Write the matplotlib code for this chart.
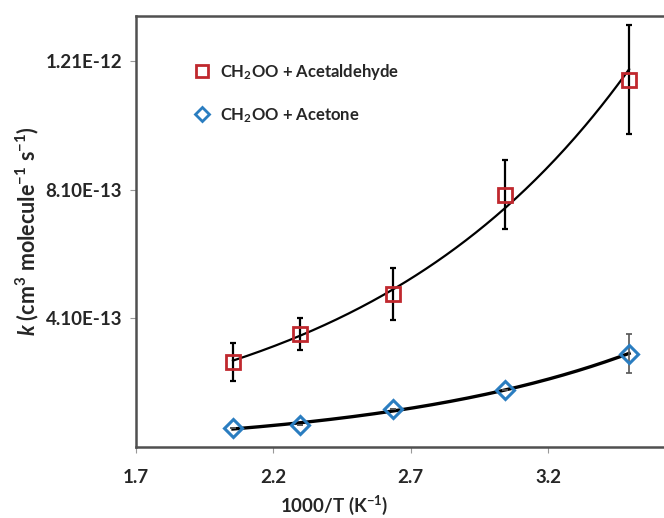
import matplotlib.pyplot as plt
import numpy as np
from matplotlib.lines import Line2D

plt.rcParams["font.family"] = ["Lato", "DejaVu Sans"]
plt.rcParams["font.weight"] = "bold"
plt.rcParams["mathtext.fontset"] = "custom"
plt.rcParams["mathtext.rm"] = "Lato:bold"
plt.rcParams["mathtext.it"] = "Lato:bold:italic"

# 1000/T (K^-1) and rate coefficients (cm3 molecule-1 s-1)
inv_t = [2.053, 2.297, 2.636, 3.043, 3.495]
k_acetaldehyde = [2.75e-13, 3.62e-13, 4.86e-13, 7.94e-13, 1.152e-12]
err_acetaldehyde = [6.0e-14, 5.0e-14, 8.0e-14, 1.07e-13, 1.7e-13]
k_acetone = [0.69e-13, 0.785e-13, 1.28e-13, 1.87e-13, 3.0e-13]
err_acetone = [0, 0, 0, 0, 6.0e-14]

x_ticks = [1.7, 2.2, 2.7, 3.2]
y_ticks = [4.10e-13, 8.10e-13, 1.21e-12]
y_tick_labels = ["4.10E-13", "8.10E-13", "1.21E-12"]

red = "#C0282E"
blue = "#2A7DC0"
text_col = "#262626"

fig = plt.figure(figsize=(6.64, 5.18), dpi=100)
ax = fig.add_axes([0.2048, 0.137, 0.8274, 0.832])


def exp_fit(x, y):
    x = np.asarray(x)
    b, a = np.polyfit(x, np.log(y), 1)
    xs = np.linspace(x.min(), x.max(), 200)
    return xs, np.exp(a + b * xs)


xs, ys = exp_fit(inv_t, k_acetaldehyde)
ax.plot(xs, ys, color="black", lw=1.6, zorder=2)
xs, ys = exp_fit(inv_t, k_acetone)
ax.plot(xs, ys, color="black", lw=2.4, zorder=2)

ax.errorbar(inv_t, k_acetaldehyde, yerr=err_acetaldehyde, fmt="none",
            ecolor="black", elinewidth=1.6, capsize=2.5, capthick=1.6, zorder=3)
ax.errorbar(inv_t, k_acetone, yerr=err_acetone, fmt="none",
            ecolor="#555555", elinewidth=1.2, capsize=2.5, capthick=1.2, zorder=3)

ax.plot(inv_t, k_acetaldehyde, "s", ms=10, mfc="none", mec=red, mew=2, zorder=4)
ax.plot(inv_t, k_acetone, "D", ms=9.5, mfc="none", mec=blue, mew=2.2, zorder=4)

ax.set_xlim(1.7, 3.7)
ax.set_ylim(1e-14, 1.35e-12)
ax.set_xticks(x_ticks)
ax.set_xticklabels([str(t) for t in x_ticks], fontweight="bold")
ax.set_yticks(y_ticks)
ax.set_yticklabels(y_tick_labels, fontweight="bold")
ax.tick_params(direction="out", length=4, width=0.8, color="#999999",
               labelsize=13.5, labelcolor=text_col)
ax.tick_params(axis="x", pad=12)
ax.tick_params(axis="y", pad=6)

for side in ["left", "bottom", "top"]:
    ax.spines[side].set_linewidth(1.8)
    ax.spines[side].set_color("#505050")
ax.spines["right"].set_visible(False)

ax.set_xlabel("1000/T (K$^{\\mathregular{-1}}$)", fontsize=13.5, fontweight="bold",
              color=text_col)
ax.xaxis.set_label_coords(0.36, -0.108)
ax.set_ylabel("$k$ (cm$^{\\mathregular{3}}$ molecule$^{\\mathregular{-1}}$ s$^{\\mathregular{-1}}$)",
              fontsize=15.5, fontweight="bold", color=text_col)
ax.yaxis.set_label_coords(-0.172, 0.5)

handles = [
    Line2D([], [], ls="none", marker="s", ms=8, mfc="none", mec=red, mew=2),
    Line2D([], [], ls="none", marker="D", ms=7, mfc="none", mec=blue, mew=2),
]
labels = ["CH$_{\\mathregular{2}}$OO + Acetaldehyde", "CH$_{\\mathregular{2}}$OO + Acetone"]
ax.legend(handles, labels, loc="upper left", bbox_to_anchor=(0.074, 0.928),
          frameon=False, prop={"size": 12, "weight": "bold"}, labelspacing=1.45,
          handletextpad=0.5, handlelength=1.2, labelcolor=text_col)

fig.savefig("out.png", dpi=100)
